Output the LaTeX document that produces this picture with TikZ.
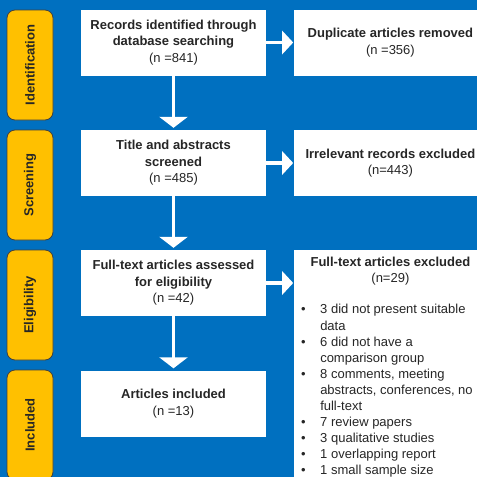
\documentclass[tikz,border=0pt]{standalone}
\usepackage{fontspec}
\setmainfont{Liberation Sans}
\usetikzlibrary{arrows.meta,positioning}
\definecolor{prismablue}{HTML}{0070C0}
\definecolor{prismagold}{HTML}{FFC000}
\definecolor{prismatext}{HTML}{262626}

\begin{document}
\begin{tikzpicture}[x=1pt,y=-1pt,
  phase/.style={draw=black!75, line width=0.8pt, fill=prismagold, rounded corners=8pt,
    rotate=90, minimum width=110pt, minimum height=46pt, inner sep=0pt,
    text=prismatext, font=\fontsize{13}{16}\selectfont\bfseries},
  box/.style={fill=white, minimum width=185pt, minimum height=66pt, inner sep=0pt,
    align=center, text=prismatext, font=\fontsize{13}{16.5}\selectfont},
  sidebox/.style={box, minimum width=192pt},
  downarrow/.style={white, line width=3.5pt, -{Triangle[width=28pt,length=11pt]}, shorten >=2pt},
  rightarrow/.style={white, line width=3.5pt, -{Triangle[width=23pt,length=11pt]}, shorten >=1pt}]

 \useasboundingbox (0,0) rectangle (477,477);
 \clip (0,0) rectangle (477,477);
 \fill[prismablue] (0,0) rectangle (477,477);

 % phases
 \node[phase] (identification) at (30,65) {Identification};
 \node[phase] (screening) at (30,185) {Screening};
 \node[phase] (eligibility) at (30,305) {Eligibility};
 \node[phase] (included) at (30,425) {Included};

 % main column
 \node[box] (records) at (173.5,42.5) {\textbf{Records identified through}\\\textbf{database searching}\\(n =841)};
 \node[box] (screened) at (173.5,163) {\textbf{Title and abstracts}\\\textbf{screened}\\(n =485)};
 \node[box] (assessed) at (173.5,283) {\textbf{Full-text articles assessed}\\\textbf{for eligibility}\\(n =42)};
 \node[box] (articles) at (173.5,403.5) {\textbf{Articles included}\\(n =13)};

 % side column
 \node[sidebox, right=28pt of records] (duplicates) {\textbf{Duplicate articles removed}\\(n =356)};
 \node[sidebox, right=28pt of screened] (irrelevant) {\textbf{Irrelevant records excluded}\\(n=443)};
 \node[sidebox, anchor=north west, minimum height=240pt, xshift=28pt] (excluded) at (assessed.north east) {};
 \node[anchor=north, align=center, inner sep=0pt, text=prismatext,
   font=\fontsize{13}{16}\selectfont, yshift=-7pt] (exctitle) at (excluded.north)
   {\textbf{Full-text articles excluded}\\(n=29)};
 \node[anchor=north west, inner sep=0pt, text=prismatext,
   font=\fontsize{13}{16.1}\selectfont] (exclist) at (301,302.5)
   {\begin{tabular}{@{}l@{\hspace{14.5pt}}l@{}}
    \textbullet & 3 did not present suitable\\
                & data\\
    \textbullet & 6 did not have a\\
                & comparison group\\
    \textbullet & 8 comments, meeting\\
                & abstracts, conferences, no\\
                & full-text\\
    \textbullet & 7 review papers\\
    \textbullet & 3 qualitative studies\\
    \textbullet & 1 overlapping report\\
    \textbullet & 1 small sample size
   \end{tabular}};

 % arrows
 \draw[downarrow] (records) -- (screened);
 \draw[downarrow] (screened) -- (assessed);
 \draw[downarrow] (assessed) -- (articles);
 \draw[rightarrow] (records) -- (duplicates);
 \draw[rightarrow] (screened) -- (irrelevant);
 \draw[rightarrow] (assessed.east) -- (assessed.east -| excluded.west);
\end{tikzpicture}
\end{document}
